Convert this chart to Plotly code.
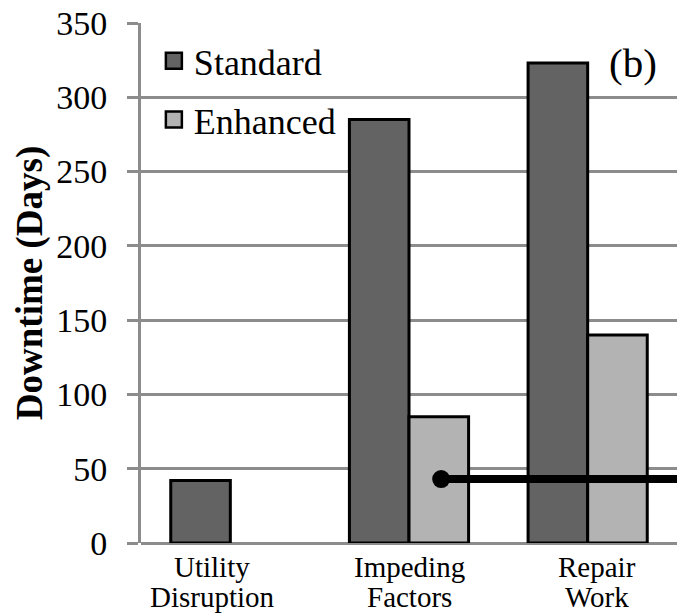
import plotly.graph_objects as go

label_line1 = ["Utility", "Impeding", "Repair"]
label_line2 = ["Disruption", "Factors", "Work"]
cat_pos = [0, 1, 2]
standard = [42, 285, 323]
enhanced = [None, 85, 140]
ref_x = [1.18, 2.5]
ref_y = [43, 43]

FONT = "Liberation Serif"
DARK = "#636363"
LIGHT = "#b3b3b3"
GRID = "#8c8c8c"
label_xshift = [-18, 0, 9]

fig = go.Figure()
fig.add_trace(go.Bar(x=cat_pos, y=standard, name="Standard", marker=dict(color=DARK, line=dict(color="black", width=3)), showlegend=False))
fig.add_trace(go.Bar(x=cat_pos, y=enhanced, name="Enhanced", marker=dict(color=LIGHT, line=dict(color="black", width=3)), showlegend=False))
fig.add_trace(go.Scatter(x=ref_x, y=ref_y, mode="lines", line=dict(color="black", width=8), showlegend=False, cliponaxis=False))
fig.add_trace(go.Scatter(x=ref_x[:1], y=ref_y[:1], mode="markers", marker=dict(color="black", size=18), showlegend=False))
# legend entries
fig.add_trace(go.Scatter(x=[None], y=[None], mode="markers", name="Standard", legendgroup="a",
                         marker=dict(symbol="square", size=16, color=DARK, line=dict(color="black", width=2.5))))
fig.add_trace(go.Scatter(x=[None], y=[None], mode="markers", name="Enhanced", legendgroup="b",
                         marker=dict(symbol="square", size=16, color=LIGHT, line=dict(color="black", width=2.5))))

annotations = [dict(text="(b)", x=0.918, y=0.9225, xref="paper", yref="paper", showarrow=False,
                    font=dict(size=41, family=FONT), xanchor="center", yanchor="middle")]
for xp, l1, l2, dx in zip(cat_pos, label_line1, label_line2, label_xshift):
    for txt, dy in ((l1, -24), (l2, -54)):
        annotations.append(dict(text=txt, x=xp, y=0, xref="x", yref="paper", showarrow=False,
                                xanchor="center", yanchor="middle", xshift=dx, yshift=dy,
                                font=dict(size=29, family=FONT, color="black")))

fig.update_layout(
    width=677, height=613,
    margin=dict(l=141, r=0, t=23, b=70),
    paper_bgcolor="white", plot_bgcolor="white",
    barmode="group", bargap=0.333, bargroupgap=0,
    font=dict(family=FONT, color="black"),
    legend=dict(x=0.024, y=0.985, xanchor="left", yanchor="top", font=dict(size=36, family=FONT),
                tracegroupgap=9, bgcolor="rgba(0,0,0,0)", itemsizing="trace"),
    annotations=annotations,
)
fig.update_xaxes(range=[-0.5, 2.5], tickvals=cat_pos, showticklabels=False, showgrid=False, zeroline=False,
                 showline=False, ticks="", automargin=False)
fig.update_yaxes(range=[0, 350], dtick=50, showgrid=True, gridcolor=GRID, gridwidth=3, zeroline=True,
                 zerolinecolor=GRID, zerolinewidth=3, showline=True, linecolor=GRID, linewidth=3,
                 ticks="outside", ticklen=11, tickwidth=3, tickcolor=GRID, ticklabelstandoff=13,
                 tickfont=dict(size=34, family=FONT), automargin=False,
                 title=dict(text="<b>Downtime (Days)</b>", font=dict(size=37, family=FONT), standoff=3))

fig.write_html("out.html")
